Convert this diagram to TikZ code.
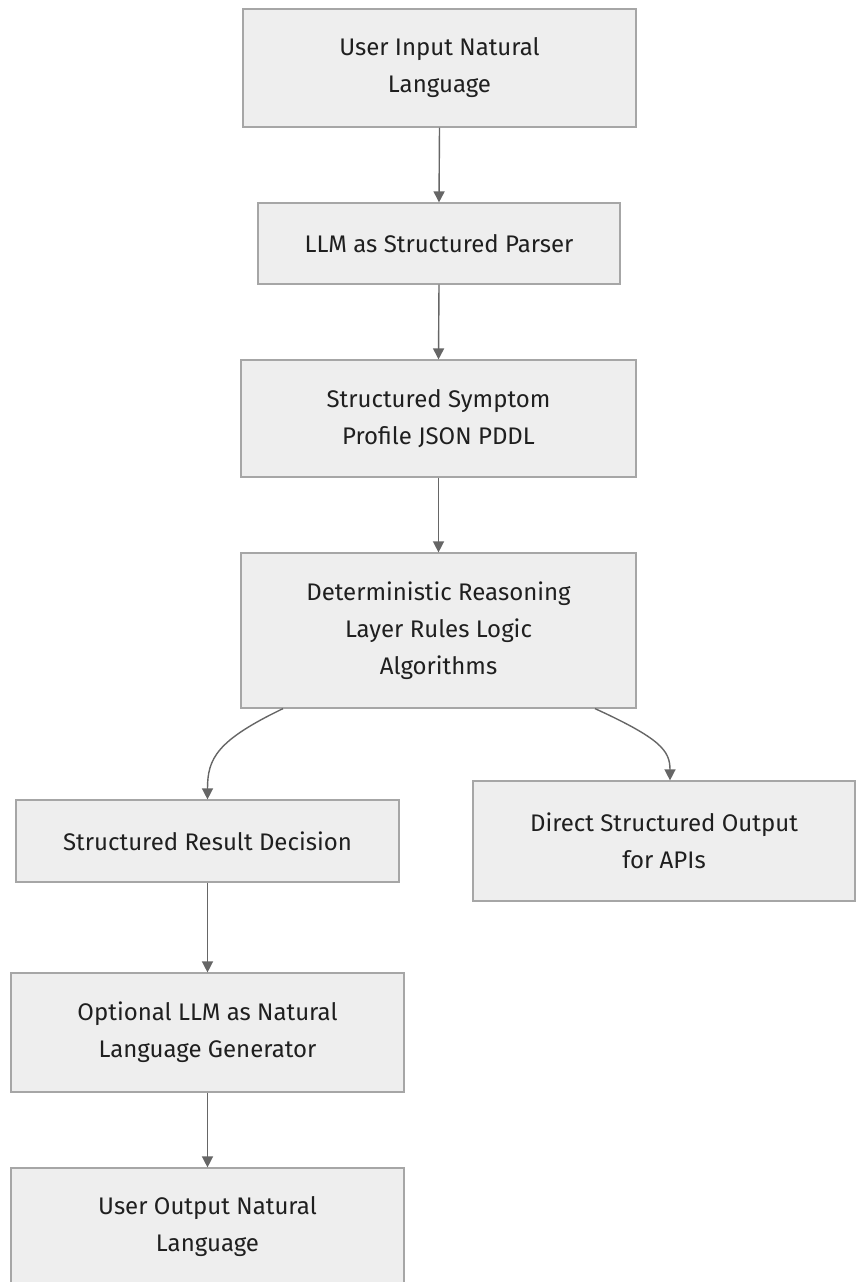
\documentclass[tikz,border=0pt]{standalone}
\usepackage{fontspec}
\setmainfont{Fira Sans}
\usetikzlibrary{arrows.meta}
\definecolor{boxfill}{HTML}{EEEEEE}
\definecolor{boxline}{HTML}{A6A6A6}
\definecolor{edge}{HTML}{666666}
\tikzset{
  box/.style={draw=boxline, fill=boxfill, line width=1.2pt, rectangle, align=center,
    inner sep=0pt, font=\fontsize{24}{37}\selectfont, text=black!88},
  link/.style={draw=edge, line width=1.4pt, -{Triangle[length=11pt,width=11pt]}}
}
\begin{document}
\begin{tikzpicture}[x=1pt,y=-1pt]
\useasboundingbox (0,0) rectangle (855,1282);
\node[box, minimum width=393pt, minimum height=118pt] (n1) at (439.5,68) {User Input Natural\\Language};
\node[box, minimum width=362pt, minimum height=81pt] (n2) at (439,243.5) {LLM as Structured Parser};
\node[box, minimum width=395pt, minimum height=117pt] (n3) at (438.5,418.5) {Structured Symptom\\Profile JSON PDDL};
\node[box, minimum width=395pt, minimum height=155pt] (n4) at (438.5,630.5) {Deterministic Reasoning\\Layer Rules Logic\\Algorithms};
\node[box, minimum width=383pt, minimum height=82pt] (n5) at (207.5,841) {Structured Result Decision};
\node[box, minimum width=382pt, minimum height=120pt] (n6) at (664,841) {Direct Structured Output\\for APIs};
\node[box, minimum width=393pt, minimum height=119pt] (n7) at (207.5,1032.5) {Optional LLM as Natural\\Language Generator};
\node[box, minimum width=393pt, minimum height=118pt] (n8) at (207.5,1227) {User Output Natural\\Language};
\draw[link] (n1.south) -- (n2.north);
\draw[link] (n2.south) -- (n3.north);
\draw[link] (n3.south) -- (n4.north);
\draw[link] ([xshift=-155.5pt]n4.south) .. controls ([xshift=-222pt,yshift=-32pt]n4.south) and ([xshift=-231pt,yshift=-50pt]n4.south) .. (n5.north);
\draw[link] ([xshift=156.5pt]n4.south) .. controls ([xshift=222pt,yshift=-30pt]n4.south) and ([xshift=231.5pt,yshift=-42pt]n4.south) .. ([xshift=6pt]n6.north);
\draw[link] (n5.south) -- (n7.north);
\draw[link] (n7.south) -- (n8.north);
\end{tikzpicture}
\end{document}
